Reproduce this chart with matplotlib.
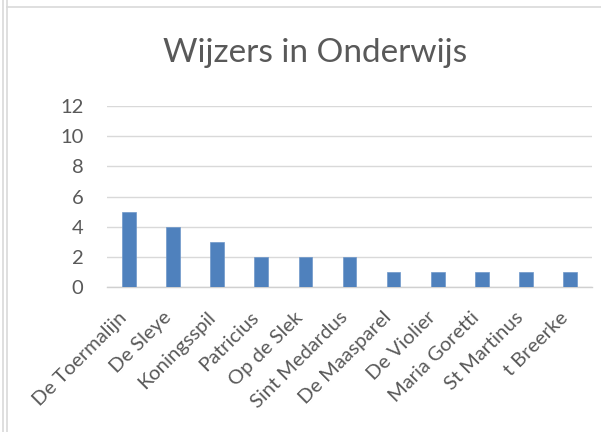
import matplotlib
matplotlib.use("Agg")
import matplotlib.pyplot as plt
from matplotlib.lines import Line2D
from matplotlib.transforms import ScaledTranslation

categories = ["De Toermalijn", "De Sleye", "Koningsspil", "Patricius", "Op de Slek",
              "Sint Medardus", "De Maasparel", "De Violier", "Maria Goretti",
              "St Martinus", "t Breerke"]
values = [5, 4, 3, 2, 2, 2, 1, 1, 1, 1, 1]
yticks = [0, 2, 4, 6, 8, 10, 12]
title = "Wijzers in Onderwijs"

plt.rcParams['font.family'] = ['Lato', 'DejaVu Sans']
text_color = "#595959"

fig = plt.figure(figsize=(6.01, 4.32), dpi=100)
ax = fig.add_axes([107/601, 1 - 287/432, (592 - 107)/601, (287 - 106)/432])

x = list(range(len(categories)))
ax.bar(x, values, width=0.31, color="#4F81BD", edgecolor="#6F97C9", linewidth=0.5, zorder=3)
ax.set_xlim(-0.5, len(categories) - 0.5)
ax.set_ylim(0, 12)
ax.set_yticks(yticks)
ax.set_yticklabels([str(v) for v in yticks], fontsize=14.5, color=text_color)
ax.set_xticks(x)
ax.set_xticklabels(categories, rotation=45, ha="right", va="center", rotation_mode="anchor",
                   fontsize=14.5, color=text_color)
ax.tick_params(axis="both", length=0)
ax.tick_params(axis="y", pad=17)
ax.tick_params(axis="x", pad=20)
offset = ScaledTranslation(-5/100, 0, fig.dpi_scale_trans)
for lab in ax.get_xticklabels():
    lab.set_transform(lab.get_transform() + offset)
ax.grid(axis="y", color="#D9D9D9", linewidth=1.0, zorder=0)
for s in ["top", "right", "left"]:
    ax.spines[s].set_visible(False)
ax.spines["bottom"].set_color("#D0D0D0")
ax.spines["bottom"].set_linewidth(1.0)

fig.text(315/601, 1 - 53/432, title, ha="center", va="center", fontsize=24, color=text_color)

# outer borders (screenshot frame)
for xp in [2.5, 6.5]:
    fig.add_artist(Line2D([xp/601, xp/601], [0, 1], color="#D9D9D9", linewidth=1.2))
fig.add_artist(Line2D([6.5/601, 1], [1 - 7/432, 1 - 7/432], color="#D9D9D9", linewidth=1.2))

fig.savefig("out.png", dpi=100)
